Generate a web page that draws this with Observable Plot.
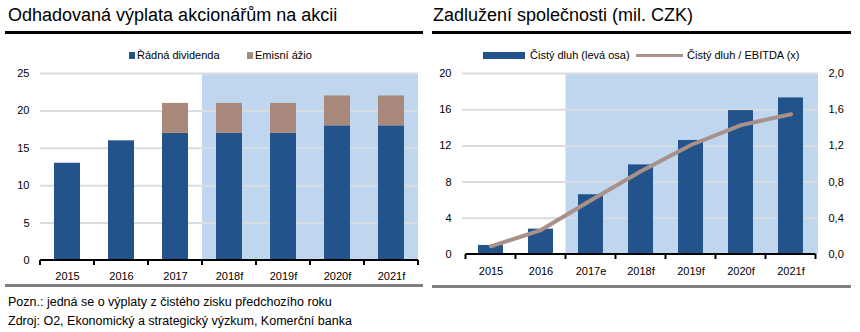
<!DOCTYPE html>
<html><head><meta charset="utf-8">
<script src="https://cdn.jsdelivr.net/npm/d3@7"></script>
<script src="https://cdn.jsdelivr.net/npm/@observablehq/plot@0.6"></script>
<style>
body{margin:0;width:860px;height:332px;background:#fff;font-family:Arial,"Liberation Sans",sans-serif;position:relative;overflow:hidden;color:#000}
.abs{position:absolute}
.title{font-size:18px;top:5px;white-space:nowrap}
.rule{height:3px;background:#000}
.grule{height:3px;background:#808080}
.leg{font-size:11px;top:48px;white-space:nowrap;line-height:14px}
.note{font-size:12.5px;left:8px;white-space:nowrap;line-height:15px}
.sw{position:absolute}
</style></head><body>
<div id="left" class="abs" style="left:0;top:0"></div>
<div id="right" class="abs" style="left:430px;top:0"></div>

<div class="abs title" style="left:8px">Odhadovaná výplata akcionářům na akcii</div>
<div class="abs rule" style="left:5px;top:31px;width:418px"></div>
<div class="abs title" style="left:433px">Zadlužení společnosti (mil. CZK)</div>
<div class="abs rule" style="left:432px;top:31px;width:419px"></div>

<div class="sw" style="left:129px;top:52px;width:6px;height:7px;background:#23538b"></div>
<div class="abs leg" style="left:137px">Řádná dividenda</div>
<div class="sw" style="left:247px;top:52px;width:6px;height:7px;background:#a8887a"></div>
<div class="abs leg" style="left:255px">Emisní ážio</div>

<div class="sw" style="left:483px;top:52px;width:42px;height:7px;background:#23538b"></div>
<div class="abs leg" style="left:530px">Čistý dluh (levá osa)</div>
<div class="sw" style="left:636px;top:54px;width:47px;height:3px;background:#a8918a"></div>
<div class="abs leg" style="left:687px">Čistý dluh / EBITDA (x)</div>

<div class="abs grule" style="left:5px;top:284px;width:418px"></div>
<div class="abs grule" style="left:432px;top:285px;width:419px"></div>
<div class="abs note" style="top:295px">Pozn.: jedná se o výplaty z čistého zisku předchozího roku</div>
<div class="abs note" style="top:314px">Zdroj: O2, Ekonomický a strategický výzkum, Komerční banka</div>

<script>
// ---- Data ----
const yearsL = ["2015","2016","2017","2018f","2019f","2020f","2021f"];
const dividenda = [13,16,17,17,17,18,18];
const azio = [0,0,4,4,4,4,4];
const forecastL = ["2018f","2019f","2020f","2021f"];

const yearsR = ["2015","2016","2017e","2018f","2019f","2020f","2021f"];
const dluh = [1.0,2.8,6.6,9.9,12.6,15.9,17.3];
const ratio = [0.09,0.27,0.60,0.92,1.21,1.43,1.55];
const forecastR = ["2017e","2018f","2019f","2020f","2021f"];

const yTicksL = [0,5,10,15,20,25];
const yTicksR = [0,4,8,12,16,20];
const rTicks = [0,0.4,0.8,1.2,1.6,2.0];

const BLUE="#23538b", BROWN="#a8887a", SHADE="#c0d6ee", GRID="#d8dbe0", LINEC="#a8918a";

function pick(args){
  const scales = args.find(a => a && typeof a === "object" && typeof a.x === "function");
  const dim = args.find(a => a && typeof a === "object" && typeof a.marginTop === "number");
  const x = scales.x;
  const bw = typeof x.bandwidth === "function" ? x.bandwidth() : x.bandwidth;
  return {x, bw, dim};
}
// shading over forecast bands (uses the band scale)
function shadeMark(cats, all){
  return (...args) => {
    const {x, bw, dim} = pick(args);
    const step = x(all[1]) - x(all[0]);
    const x0 = x(cats[0]) - (step-bw)/2;
    const x1 = dim.width - dim.marginRight;
    const g = d3.create("svg:g");
    g.append("rect").attr("x",x0).attr("width",x1-x0)
      .attr("y",dim.marginTop+1).attr("height",dim.height-dim.marginBottom-dim.marginTop-1)
      .attr("fill",SHADE);
    return g.node();
  };
}
// boundary tick marks on the x axis
function boundaryTicks(cats){
  return (...args) => {
    const {x, bw, dim} = pick(args);
    const step = x(cats[1]) - x(cats[0]);
    const xs = cats.map(c => x(c) - (step-bw)/2);
    xs.push(x(cats[cats.length-1]) + bw + (step-bw)/2);
    const yb = dim.height - dim.marginBottom;
    const g = d3.create("svg:g");
    g.append("line").attr("x1",xs[0]).attr("x2",xs[xs.length-1]).attr("y1",yb).attr("y2",yb)
      .attr("stroke","#000").attr("stroke-width",2);
    for (const v of xs) g.append("line").attr("x1",v).attr("x2",v).attr("y1",yb).attr("y2",yb+5)
      .attr("stroke","#000").attr("stroke-width",2);
    return g.node();
  };
}

const stacked = [];
yearsL.forEach((y,i)=>{
  stacked.push({year:y, s:"Řádná dividenda", v:dividenda[i]});
  stacked.push({year:y, s:"Emisní ážio", v:azio[i]});
});

const axisFont = {fontSize:"11px", fontFamily:"Arial,'Liberation Sans',sans-serif"};

const left = Plot.plot({
  width:430, height:290,
  marginLeft:40, marginRight:12, marginTop:73, marginBottom:30,
  style:{...axisFont, color:"#000", background:"transparent"},
  x:{domain:yearsL, paddingInner:0.52, paddingOuter:0.26, label:null},
  y:{domain:[0,25], label:null},
  color:{domain:["Řádná dividenda","Emisní ážio"], range:[BLUE,BROWN]},
  marks:[
    shadeMark(forecastL, yearsL),
    Plot.ruleY(yTicksL.filter(d=>d>0), {stroke:GRID, strokeWidth:2, strokeOpacity:1}),
    Plot.barY(stacked, {x:"year", y:"v", fill:"s", order:["Řádná dividenda","Emisní ážio"]}),
    Plot.axisY({ticks:yTicksL, tickSize:0, tickPadding:11, label:null}),
    Plot.axisX({tickSize:0, tickPadding:12, label:null}),
    boundaryTicks(yearsL)
  ]
});
document.getElementById("left").appendChild(left);

const right = Plot.plot({
  width:430, height:290,
  marginLeft:32, marginRight:42, marginTop:73, marginBottom:36,
  style:{...axisFont, color:"#000", background:"transparent"},
  x:{domain:yearsR, paddingInner:0.51, paddingOuter:0.255, label:null},
  y:{domain:[0,20], label:null},
  marks:[
    shadeMark(forecastR, yearsR),
    Plot.ruleY(yTicksR.filter(d=>d>0), {stroke:GRID, strokeWidth:2, strokeOpacity:1}),
    Plot.barY(yearsR, {x:d=>d, y:(d,i)=>dluh[i], fill:BLUE}),
    Plot.line(yearsR, {x:d=>d, y:(d,i)=>ratio[i]*10, stroke:LINEC, strokeWidth:4, strokeLinecap:"round", strokeLinejoin:"round"}),
    Plot.axisY({ticks:yTicksR, tickSize:0, tickPadding:11, label:null}),
    Plot.axisY({anchor:"right", ticks:rTicks.map(d=>d*10), tickFormat:d=>(d/10).toFixed(1).replace(".",","), tickSize:0, tickPadding:10, label:null}),
    Plot.axisX({tickSize:0, tickPadding:13, label:null}),
    boundaryTicks(yearsR)
  ]
});
document.getElementById("right").appendChild(right);
</script>
</body></html>
